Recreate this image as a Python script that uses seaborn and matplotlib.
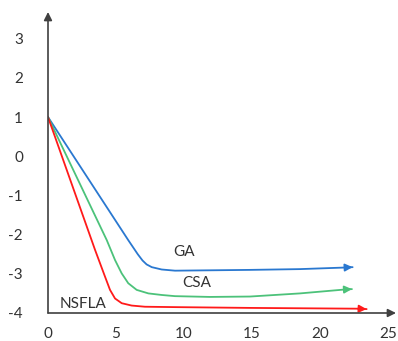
import pandas as pd
import numpy as np
import seaborn as sns
import matplotlib
matplotlib.use('Agg')
import matplotlib.pyplot as plt

# curve values (last point = arrow tip)
GA_X = [0, 5.90, 6.60, 6.95, 7.25, 7.63, 8.36, 9.34, 14.85, 18.53, 21.84, 22.40]
GA_Y = [1, -2.14, -2.50, -2.66, -2.76, -2.83, -2.89, -2.92, -2.90, -2.88, -2.84, -2.83]

CSA_X = [0, 4.32, 4.93, 5.42, 5.90, 6.52, 7.38, 8.36, 9.34, 11.9, 14.85, 18.53, 21.84, 22.35]
CSA_Y = [1, -2.14, -2.65, -2.99, -3.24, -3.41, -3.50, -3.54, -3.57, -3.59, -3.58, -3.50, -3.40, -3.39]

NSFLA_X = [0, 3.46, 4.19, 4.56, 4.93, 5.42, 6.15, 7.13, 9.34, 14.85, 22.79, 23.43]
NSFLA_Y = [1, -2.39, -3.07, -3.41, -3.63, -3.75, -3.81, -3.84, -3.85, -3.87, -3.89, -3.90]

X_TICKS = [0, 5, 10, 15, 20, 25]
Y_TICKS = [-4, -3, -2, -1, 0, 1, 2, 3]

COLORS = {'GA': '#2a78d0', 'CSA': '#4cc27a', 'NSFLA': '#ff1a1a'}

# label positions for the curve names
LABELS = {'GA': (10.0, -2.44), 'CSA': (10.96, -3.23), 'NSFLA': (2.55, -3.77)}

sns.set_style('white')
plt.rcParams['font.family'] = ['Lato', 'DejaVu Sans']
plt.rcParams['axes.unicode_minus'] = False

SERIES = [('GA', GA_X, GA_Y), ('CSA', CSA_X, CSA_Y), ('NSFLA', NSFLA_X, NSFLA_Y)]

fig = plt.figure(figsize=(3.98, 3.41), dpi=100)
ax = fig.add_axes([48 / 398, 28 / 341, 348 / 398, 301 / 341])

for name, xs, ys in SERIES:
    d = pd.DataFrame({'x': xs, 'y': ys})
    sns.lineplot(data=d, x='x', y='y', color=COLORS[name], sort=False,
                 estimator=None, lw=1.3, ax=ax)
    #arrow head at the end of the curve
    ax.annotate('', xy=(xs[-1], ys[-1]), xytext=(xs[-2], ys[-2]),
                arrowprops=dict(arrowstyle='-|>', color=COLORS[name], lw=1.3,
                                mutation_scale=11, shrinkA=0, shrinkB=0))
    lx, ly = LABELS[name]
    ax.text(lx, ly, name, ha='center', va='center', fontsize=11, color='#333333')

ax.set_xlim(0, 25.59)
ax.set_ylim(-4, 3.68)
ax.set_xticks(X_TICKS)
ax.set_yticks(Y_TICKS)
ax.set_xlabel('')
ax.set_ylabel('')
ax.tick_params(axis='both', length=0, labelsize=11, labelcolor='#333333')
ax.tick_params(axis='y', pad=18)
ax.tick_params(axis='x', pad=10)
for s in ax.spines.values():
    s.set_visible(False)

#axis lines with arrows
ax.annotate('', xy=(1, 0), xytext=(0, 0), xycoords='axes fraction',
            arrowprops=dict(arrowstyle='-|>', color='#404040', lw=1.2,
                            mutation_scale=12, shrinkA=0, shrinkB=0))
ax.annotate('', xy=(0, 1), xytext=(0, 0), xycoords='axes fraction',
            arrowprops=dict(arrowstyle='-|>', color='#404040', lw=1.2,
                            mutation_scale=12, shrinkA=0, shrinkB=0))

fig.savefig('out.png', dpi=100)
